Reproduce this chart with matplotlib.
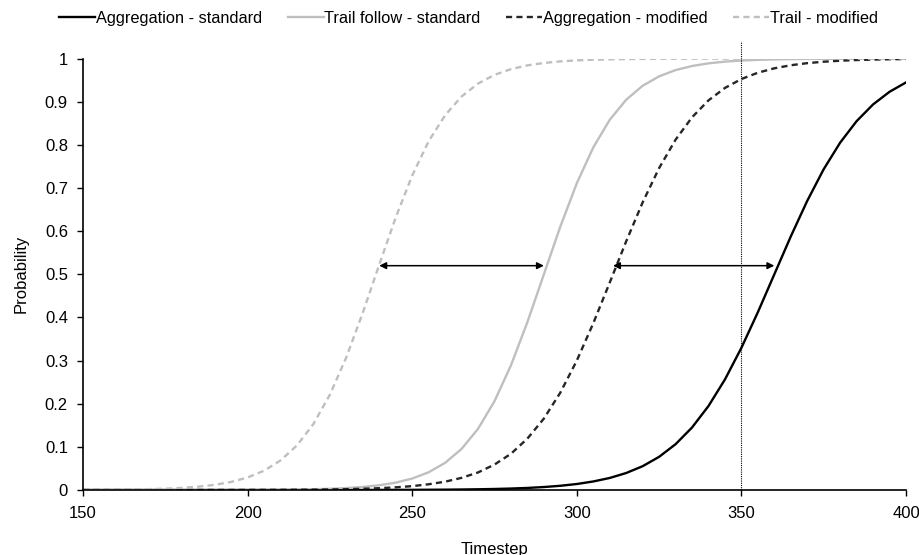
import numpy as np
import matplotlib
matplotlib.use("Agg")
import matplotlib.pyplot as plt
from matplotlib.ticker import FuncFormatter

plt.rcParams['font.family'] = ['Liberation Sans', 'DejaVu Sans']

timestep = np.arange(150, 401, 5)

agg_standard = [
    0.0, 0.0, 0.0, 0.0, 0.0, 0.0, 0.0, 0.0, 0.0, 0.0,
    0.0, 0.0, 0.0, 0.0, 0.0001, 0.0001, 0.0001, 0.0001, 0.0002, 0.0003,
    0.0004, 0.0006, 0.0008, 0.0012, 0.0017, 0.0024, 0.0034, 0.0048, 0.0069, 0.0098,
    0.0139, 0.0198, 0.0279, 0.0394, 0.0552, 0.0769, 0.1062, 0.1449, 0.1947, 0.2563,
    0.3296, 0.4122, 0.5, 0.5878, 0.6704, 0.7437, 0.8053, 0.8551, 0.8938, 0.9231,
    0.9448]

trail_standard = [
    0.0, 0.0, 0.0, 0.0, 0.0, 0.0, 0.0001, 0.0001, 0.0001, 0.0002,
    0.0003, 0.0005, 0.0008, 0.0012, 0.0018, 0.0029, 0.0045, 0.0070, 0.0110, 0.0171,
    0.0266, 0.0411, 0.0630, 0.0953, 0.1419, 0.2059, 0.2890, 0.3893, 0.5, 0.6107,
    0.7110, 0.7941, 0.8581, 0.9047, 0.9370, 0.9589, 0.9734, 0.9829, 0.9890, 0.9930,
    0.9955, 0.9971, 0.9982, 0.9988, 0.9993, 0.9995, 0.9997, 0.9998, 0.9999, 0.9999,
    0.9999]

agg_modified = [
    0.0, 0.0, 0.0, 0.0, 0.0, 0.0, 0.0, 0.0001, 0.0001, 0.0001,
    0.0002, 0.0003, 0.0004, 0.0006, 0.0009, 0.0013, 0.0020, 0.0029, 0.0042, 0.0062,
    0.0090, 0.0133, 0.0193, 0.0282, 0.0407, 0.0590, 0.0840, 0.1192, 0.1656, 0.2258,
    0.3000, 0.3865, 0.4808, 0.5764, 0.6667, 0.7462, 0.8120, 0.8639, 0.9032, 0.9320,
    0.9527, 0.9673, 0.9775, 0.9846, 0.9895, 0.9928, 0.9951, 0.9967, 0.9977, 0.9985,
    0.9989]

trail_modified = [
    0.0003, 0.0005, 0.0008, 0.0013, 0.0020, 0.0031, 0.0049, 0.0077, 0.0120, 0.0187,
    0.0290, 0.0448, 0.0685, 0.1034, 0.1531, 0.2210, 0.3079, 0.4110, 0.5225, 0.6318,
    0.7291, 0.8085, 0.8687, 0.9122, 0.9421, 0.9623, 0.9756, 0.9843, 0.9899, 0.9936,
    0.9959, 0.9974, 0.9983, 0.9989, 0.9993, 0.9996, 0.9997, 0.9998, 0.9999, 0.9999,
    0.9999, 1.0, 1.0, 1.0, 1.0, 1.0, 1.0, 1.0, 1.0, 1.0,
    1.0]

# shift arrows at half probability and the reference timestep
arrow_level = 0.52
arrow_pairs = [(240, 290), (311, 360)]
cutoff_step = 350

fs = 12

fig = plt.figure(figsize=(9.2, 5.55), dpi=100)
ax = fig.add_axes([0.0902, 0.1171, 0.8946, 0.7773])

ax.plot(timestep, agg_standard, color="black", lw=1.7, label="Aggregation - standard")
ax.plot(timestep, trail_standard, color="#bfbfbf", lw=1.7, label="Trail follow - standard")
ax.plot(timestep, agg_modified, color="#262626", lw=1.7, dashes=(2.6, 1.8), label="Aggregation - modified")
ax.plot(timestep, trail_modified, color="#bfbfbf", lw=1.7, dashes=(2.6, 1.8), label="Trail - modified")

ax.plot([cutoff_step, cutoff_step], [0, 1.04], color="black", lw=0.8, ls=(0, (1, 1)), clip_on=False)

for x0, x1 in arrow_pairs:
    ax.annotate("", xy=(x0, arrow_level), xytext=(x1, arrow_level),
                arrowprops=dict(arrowstyle="<|-|>", color="black", lw=1.1,
                                mutation_scale=10, shrinkA=0, shrinkB=0))

ax.set_xlim(150, 400)
ax.set_ylim(0, 1)
ax.set_xticks(np.arange(150, 401, 50))
ax.set_yticks(np.arange(0, 1.01, 0.1))
ax.yaxis.set_major_formatter(FuncFormatter(lambda v, p: "%g" % round(v, 1)))
ax.tick_params(labelsize=fs, length=4.3, width=1, direction="out", colors="black")
ax.tick_params(axis="x", pad=7)
ax.tick_params(axis="y", pad=6.5)
for s in ["top", "right"]:
    ax.spines[s].set_visible(False)
for s in ["left", "bottom"]:
    ax.spines[s].set_linewidth(1.2)

ax.set_xlabel("Timestep", fontsize=fs, labelpad=15)
ax.set_ylabel("Probability", fontsize=fs, labelpad=11.5)

fig.legend(loc="center", bbox_to_anchor=(468.5 / 920, 1 - 18.3 / 555), ncol=4, frameon=False,
           fontsize=11.8, handlelength=2.2, handletextpad=0.05, columnspacing=1.55,
           borderpad=0)

fig.savefig("out.png", dpi=100)
